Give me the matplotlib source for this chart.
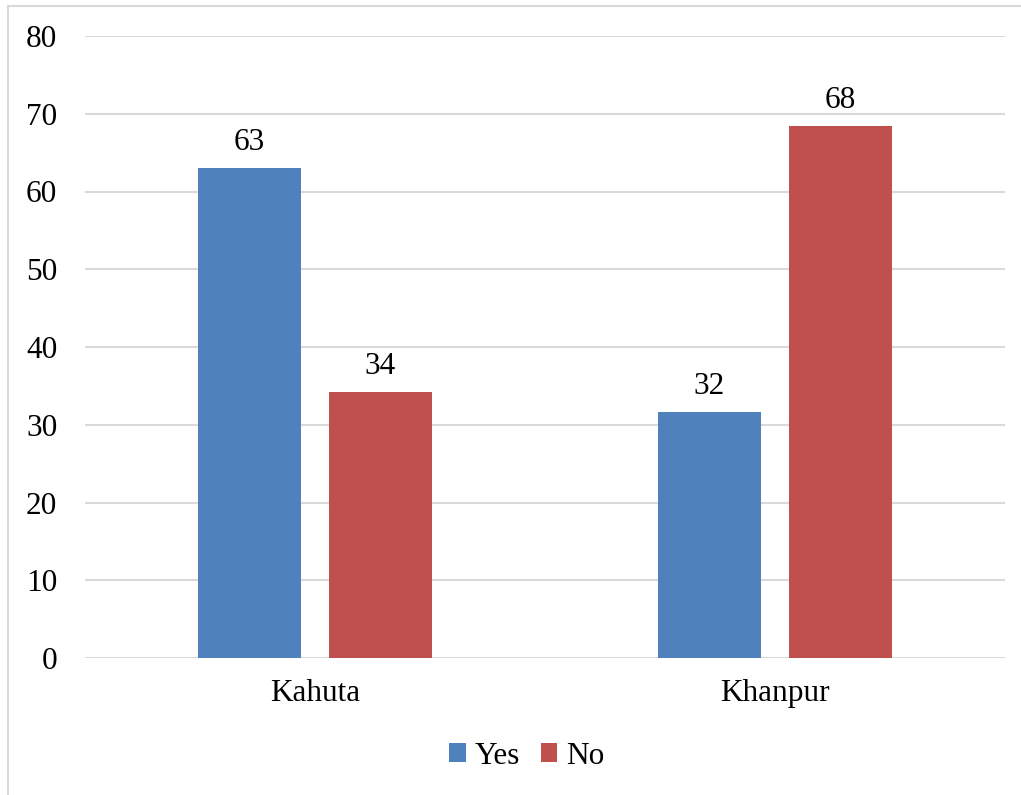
import matplotlib
matplotlib.use("Agg")
import matplotlib.pyplot as plt
from matplotlib.lines import Line2D
import numpy as np

categories = ["Kahuta", "Khanpur"]
yes_values = [63.0, 31.6]
no_values = [34.2, 68.4]
series_names = ["Yes", "No"]
y_ticks = [0, 10, 20, 30, 40, 50, 60, 70, 80]

BLUE = "#4F81BD"
RED = "#C0504D"
GRID = "#D9D9D9"
FS = 22.5

plt.rcParams["font.family"] = ["Liberation Serif", "DejaVu Serif"]

W, H = 1021, 795
fig = plt.figure(figsize=(W / 100, H / 100), dpi=100)
ax = fig.add_axes([85 / W, 1 - 658 / H, 920 / W, (658 - 36) / H])

x = np.arange(len(categories))
bw = 0.224
off = 0.1425
b1 = ax.bar(x - off, yes_values, bw, color=BLUE, label=series_names[0], zorder=3)
b2 = ax.bar(x + off, no_values, bw, color=RED, label=series_names[1], zorder=3)

for bars, vals in ((b1, yes_values), (b2, no_values)):
    for rect, v in zip(bars, vals):
        ax.annotate(f"{v:.0f}", (rect.get_x() + rect.get_width() / 2, v),
                    xytext=(0, 8), textcoords="offset points",
                    ha="center", va="bottom", fontsize=FS)

ax.set_xlim(-0.5, 1.5)
ax.set_ylim(0, 80)
ax.set_yticks(y_ticks)
ax.set_xticks(x)
ax.set_xticklabels(categories)
ax.tick_params(axis="both", length=0, labelsize=FS)
ax.tick_params(axis="y", pad=20)
ax.tick_params(axis="x", pad=15)
ax.grid(axis="y", color=GRID, linewidth=1.5, zorder=0)
for s in ax.spines.values():
    s.set_visible(False)

ax.legend(handles=[b1, b2], loc="center", bbox_to_anchor=(527 / W, 1 - 756 / H),
          bbox_transform=fig.transFigure, ncol=2, frameon=False, fontsize=FS,
          handlelength=0.52, handleheight=0.52, handletextpad=0.3, columnspacing=0.65)

# outer frame (left and top edges)
fig.add_artist(Line2D([7.5 / W, 7.5 / W], [0, 1 - 5.5 / H], transform=fig.transFigure,
                      color=GRID, linewidth=1.5))
fig.add_artist(Line2D([7.5 / W, 1], [1 - 5.5 / H, 1 - 5.5 / H], transform=fig.transFigure,
                      color=GRID, linewidth=1.5))

fig.savefig("out.png", dpi=100)
